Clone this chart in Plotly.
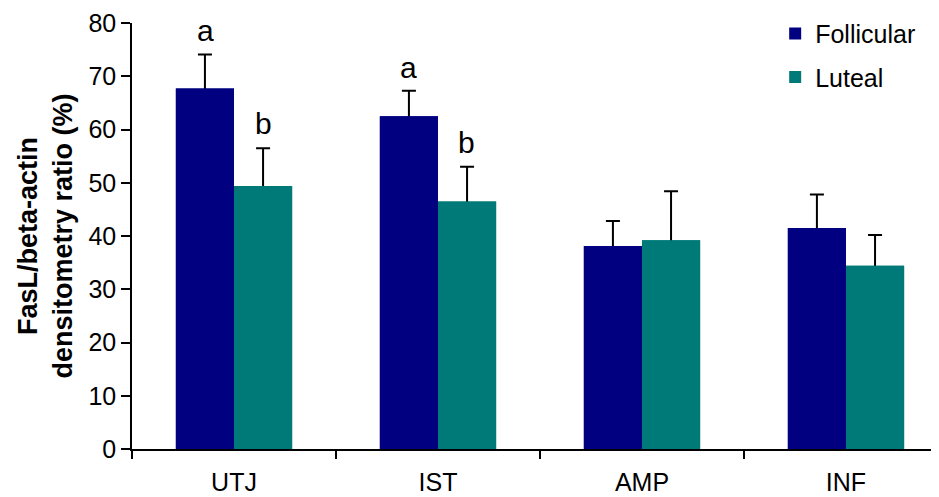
import plotly.graph_objects as go

categories = ["UTJ", "IST", "AMP", "INF"]
follicular = [67.7, 62.5, 38.1, 41.5]
follicular_err = [6.4, 4.8, 4.7, 6.3]
luteal = [49.4, 46.5, 39.2, 34.4]
luteal_err = [7.1, 6.5, 9.2, 5.8]
letters_foll = ["a", "a", "", ""]
letters_lut = ["b", "b", "", ""]
y_ticks = [0, 10, 20, 30, 40, 50, 60, 70, 80]

FONT = "Liberation Sans, Arial, sans-serif"
NAVY = "#000080"
TEAL = "#007A78"

fig = go.Figure()
# error bars (drawn underneath; their lower caps get hidden by the overlay bars)
for vals, errs, col in [(follicular, follicular_err, NAVY), (luteal, luteal_err, TEAL)]:
    fig.add_trace(go.Bar(
        x=categories, y=vals, marker_color=col, marker_line_width=0, showlegend=False,
        hoverinfo="skip", xaxis="x", yaxis="y",
        error_y=dict(type="data", array=errs, arrayminus=[1.0]*len(errs), symmetric=False,
                     color="black", thickness=2, width=7),
    ))
# visible bars on overlay axis
fig.add_trace(go.Bar(name="Follicular", x=categories, y=follicular, marker_color=NAVY,
                     marker_line_width=0, xaxis="x2", yaxis="y", legendgroup="f"))
fig.add_trace(go.Bar(name="Luteal", x=categories, y=luteal, marker_color=TEAL,
                     marker_line_width=0, xaxis="x2", yaxis="y", legendgroup="l"))

for i, c in enumerate(categories):
    if letters_foll[i]:
        fig.add_annotation(x=c, y=follicular[i] + follicular_err[i], text=letters_foll[i],
                           showarrow=False, xshift=-29, yshift=5, yanchor="bottom",
                           font=dict(size=30, color="black", family=FONT))
    if letters_lut[i]:
        fig.add_annotation(x=c, y=luteal[i] + luteal_err[i], text=letters_lut[i],
                           showarrow=False, xshift=29, yshift=6, yanchor="bottom",
                           font=dict(size=30, color="black", family=FONT))

xr = [-0.5, 3.456]
fig.update_layout(
    width=931, height=489,
    margin=dict(l=124, r=0, t=15, b=48),
    paper_bgcolor="white", plot_bgcolor="white",
    barmode="group", bargap=0.43, bargroupgap=0,
    font=dict(family=FONT, size=25, color="black"),
    showlegend=True,
    legend=dict(x=0.797, y=1.029, xanchor="left", yanchor="top",
                font=dict(size=25, color="black", family=FONT),
                tracegroupgap=8, bgcolor="rgba(0,0,0,0)"),
    xaxis=dict(
        range=xr, showline=True, linecolor="black", linewidth=1.5, automargin=False,
        ticks="outside", tickson="boundaries", ticklen=8, tickcolor="black", tickwidth=1.5,
        showgrid=False, zeroline=False, ticklabelstandoff=10,
        tickfont=dict(size=25, family=FONT),
    ),
    xaxis2=dict(range=xr, overlaying="x", visible=False, showgrid=False, zeroline=False),
    yaxis=dict(
        range=[0, 80], tickvals=y_ticks, showline=True, linecolor="black", linewidth=1.5,
        automargin=False,
        ticks="outside", ticklen=9, tickcolor="black", tickwidth=1.5,
        showgrid=False, zeroline=False,
        tickfont=dict(size=25, family=FONT),
        title=dict(text="<b>FasL/beta-actin<br>densitometry ratio (%)</b>",
                   font=dict(size=27, family=FONT), standoff=8),
    ),
)

fig.write_html("out.html")
